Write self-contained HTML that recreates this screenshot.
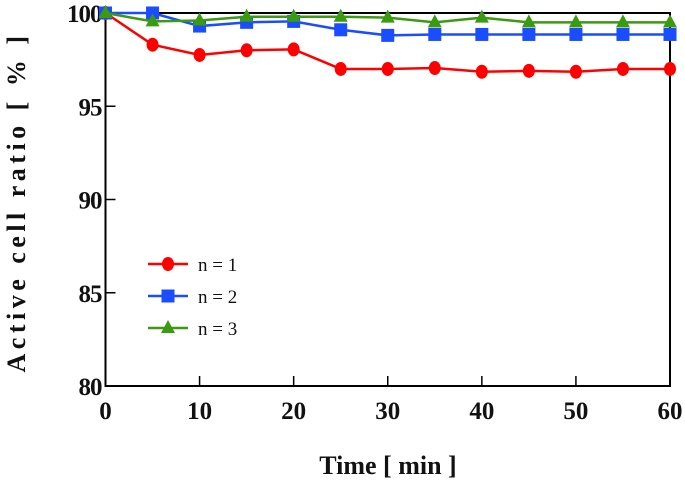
<!DOCTYPE html>
<html><head><meta charset="utf-8"><style>
body{margin:0;background:#fff}
svg text{font-family:"Liberation Serif",serif;font-weight:bold;fill:#111}
</style></head><body>
<svg id="c" width="685" height="484"></svg>
<script>
const times=[0,5,10,15,20,25,30,35,40,45,50,55,60];
const n1=[100,98.3,97.75,98.0,98.05,97.0,97.0,97.05,96.85,96.9,96.85,97.0,97.0];
const n2=[100,100,99.3,99.5,99.55,99.1,98.8,98.85,98.85,98.85,98.85,98.85,98.85];
const n3=[100,99.55,99.6,99.8,99.8,99.8,99.75,99.5,99.75,99.5,99.5,99.5,99.5];
const xTicks=[0,10,20,30,40,50,60];
const yTicks=[80,85,90,95,100];
const seriesNames=["n = 1","n = 2","n = 3"];
const NS="http://www.w3.org/2000/svg",svg=document.getElementById('c');
const X0=105.5,X1=670,Y0=386,Y1=13;
const xs=v=>X0+(v-0)/60*(X1-X0), ys=v=>Y0-(v-80)/20*(Y0-Y1);
function el(t,a,p){const e=document.createElementNS(NS,t);for(const k in a)e.setAttribute(k,a[k]);(p||svg).appendChild(e);return e;}
const frame=el('rect',{x:X0,y:Y1,width:X1-X0,height:Y0-Y1,fill:'none',stroke:'#000','stroke-width':2});


xTicks.forEach(t=>{
 const l=el('line',{x1:xs(t),x2:xs(t),y1:Y0,y2:Y0-10,stroke:'#000','stroke-width':1.5});
 
 
 const tx=el('text',{x:xs(t),y:Y0+33,'text-anchor':'middle','font-size':25});tx.textContent=t;
 
 
});
yTicks.forEach(t=>{
 const l=el('line',{x1:X0,x2:X0+10,y1:ys(t),y2:ys(t),stroke:'#000','stroke-width':1.5});
 
 
 const tx=el('text',{x:X0-4,y:ys(t)+9,'text-anchor':'end','font-size':25,'letter-spacing':-1});tx.textContent=t;
 
 
});
const xt=el('text',{x:388,y:474,'text-anchor':'middle','font-size':26});xt.textContent='Time [ min ]';


const yt=el('text',{x:0,y:0,'text-anchor':'middle','font-size':26,'letter-spacing':4.5,transform:'translate(25,202) rotate(-90)'});yt.textContent='Active cell ratio [ % ]';


const colors=['#f00','#1a4dff','#3a9a10'];
function marker(type,x,y,c,p){
 if(type==0)return el('ellipse',{cx:x,cy:y,rx:6,ry:7,fill:c},p);
 if(type==1)return el('rect',{x:x-6.5,y:y-6.5,width:13,height:13,fill:c},p);
 return el('polygon',{points:`${x},${y-8} ${x-7},${y+5} ${x+7},${y+5}`,fill:c},p);
}
[n1,n2,n3].forEach((d,i)=>{
 const g=el('g',{});
 
 
 el('polyline',{points:d.map((v,j)=>xs(times[j])+','+ys(v)).join(' '),fill:'none',stroke:colors[i],'stroke-width':2.5},g);
 d.forEach((v,j)=>{const m=marker(i,xs(times[j]),ys(v),colors[i],g);
  
  });
 const lg=el('g',{});
 
 
 const ly=264+i*32;
 el('line',{x1:148,x2:188,y1:ly,y2:ly,stroke:colors[i],'stroke-width':2.5},lg);
 marker(i,168,ly,colors[i],lg);
 const t=el('text',{x:198,y:ly+7,'font-size':19},lg);t.style.fontWeight='normal';t.textContent=seriesNames[i];
});
</script>
</body></html>
